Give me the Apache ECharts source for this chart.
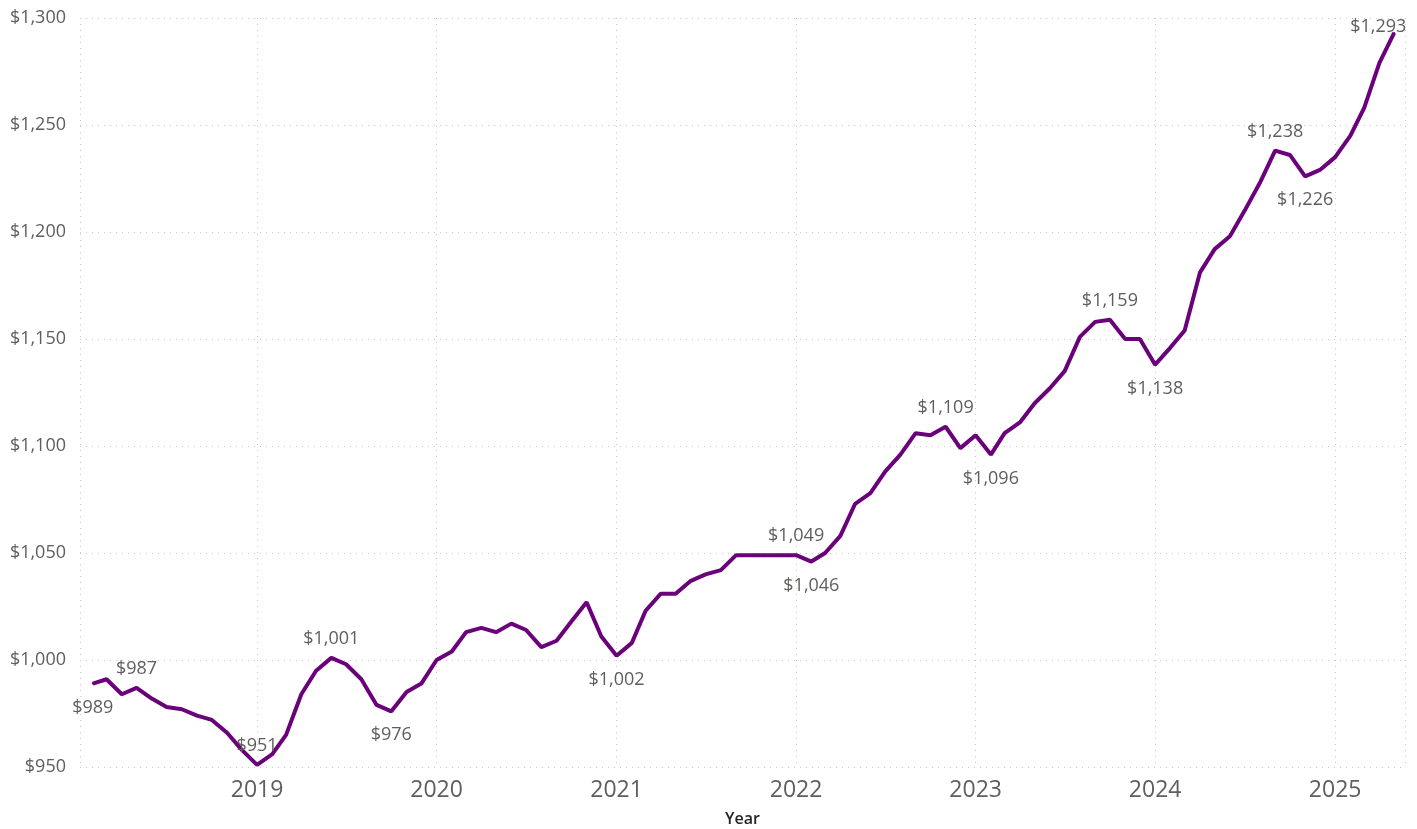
<!DOCTYPE html>
<html>
<head>
<meta charset="utf-8">
<script src="https://cdn.jsdelivr.net/npm/echarts@6/dist/echarts.min.js"></script>
<style>
  html, body { margin: 0; padding: 0; background: #fff; }
  #chart { width: 1417px; height: 829px; }
</style>
</head>
<body>
<div id="chart"></div>
<script>
// monthly points, first day of each month
const months = [
  "2018-02", "2018-03", "2018-04", "2018-05", "2018-06", "2018-07", "2018-08", "2018-09", "2018-10", "2018-11", "2018-12",
  "2019-01", "2019-02", "2019-03", "2019-04", "2019-05", "2019-06", "2019-07", "2019-08", "2019-09", "2019-10", "2019-11", "2019-12",
  "2020-01", "2020-02", "2020-03", "2020-04", "2020-05", "2020-06", "2020-07", "2020-08", "2020-09", "2020-10", "2020-11", "2020-12",
  "2021-01", "2021-02", "2021-03", "2021-04", "2021-05", "2021-06", "2021-07", "2021-08", "2021-09", "2021-10", "2021-11", "2021-12",
  "2022-01", "2022-02", "2022-03", "2022-04", "2022-05", "2022-06", "2022-07", "2022-08", "2022-09", "2022-10", "2022-11", "2022-12",
  "2023-01", "2023-02", "2023-03", "2023-04", "2023-05", "2023-06", "2023-07", "2023-08", "2023-09", "2023-10", "2023-11", "2023-12",
  "2024-01", "2024-02", "2024-03", "2024-04", "2024-05", "2024-06", "2024-07", "2024-08", "2024-09", "2024-10", "2024-11", "2024-12",
  "2025-01", "2025-02", "2025-03", "2025-04", "2025-05"
];

const rent = [
  989, 991, 984, 987, 982, 978, 977, 974, 972, 966, 958,
  951, 956, 965, 984, 995, 1001, 998, 991, 979, 976, 985, 989,
  1000, 1004, 1013, 1015, 1013, 1017, 1014, 1006, 1009, 1018, 1027, 1011,
  1002, 1008, 1023, 1031, 1031, 1037, 1040, 1042, 1049, 1049, 1049, 1049,
  1049, 1046, 1050, 1058, 1073, 1078, 1088, 1096, 1106, 1105, 1109, 1099,
  1105, 1096, 1106, 1111, 1120, 1127, 1135, 1151, 1158, 1159, 1150, 1150,
  1138, 1146, 1154, 1181, 1192, 1198, 1210, 1223, 1238, 1236, 1226, 1229,
  1235, 1245, 1258, 1279, 1293
];

// which points carry a data label
const labelsAbove = ["2018-05", "2019-01", "2019-06", "2022-01", "2022-11", "2023-10", "2024-09"];
const labelsBelow = ["2018-02", "2019-10", "2021-01", "2022-02", "2023-02", "2024-01", "2024-11"];
const labelsCorner = ["2025-05"]; // last label is pulled back inside the plot

const yMin = 950;
const yMax = 1300;
const yStep = 50;

const font = "'Segoe UI', 'Open Sans', sans-serif";
const money = v => "$" + Math.round(v).toLocaleString("en-US");

const points = months.map((m, i) => {
  const item = { value: [m + "-01", rent[i]] };
  if (labelsAbove.includes(m)) item.label = { show: true, position: "top" };
  if (labelsBelow.includes(m)) item.label = { show: true, position: "bottom", distance: 14 };
  if (labelsCorner.includes(m)) item.label = { show: true, position: [-43, -14] };
  return item;
});

const chart = echarts.init(document.getElementById("chart"));
chart.setOption({
  animation: false,
  grid: { left: 80, right: 12, top: 18, bottom: 62, containLabel: false, outerBoundsMode: "none" },
  xAxis: {
    type: "time",
    min: "2018-01-06",
    max: "2025-05-23",
    minInterval: 365 * 24 * 3600 * 1000,
    maxInterval: 366 * 24 * 3600 * 1000,
    name: "Year",
    nameLocation: "middle",
    nameGap: 44,
    nameTextStyle: { fontFamily: font, fontSize: 16, fontWeight: 600, color: "#252423" },
    axisLine: { show: false },
    axisTick: { show: false },
    axisLabel: {
      formatter: "{yyyy}",
      showMinLabel: false,
      showMaxLabel: false,
      fontFamily: font,
      fontSize: 23,
      color: "#605E5C",
      margin: 12
    },
    splitLine: { show: true, lineStyle: { color: "#c8c8c8", type: [1, 5], width: 1 } }
  },
  yAxis: {
    type: "value",
    min: yMin,
    max: yMax,
    interval: yStep,
    axisLine: { show: false },
    axisTick: { show: false },
    axisLabel: {
      formatter: v => money(v),
      fontFamily: font,
      fontSize: 18,
      color: "#605E5C",
      margin: 14
    },
    splitLine: { show: true, lineStyle: { color: "#c8c8c8", type: [1, 5], width: 1 } }
  },
  series: [
    {
      type: "line",
      data: points,
      showSymbol: true,
      symbol: "circle",
      symbolSize: 2,
      itemStyle: { color: "#6B007B" },
      lineStyle: { color: "#6B007B", width: 4 },
      label: {
        show: false,
        formatter: p => money(p.value[1]),
        fontFamily: font,
        fontSize: 18,
        color: "#605E5C",
        distance: 9
      },
      labelLayout: { hideOverlap: false }
    }
  ]
});
</script>
</body>
</html>
